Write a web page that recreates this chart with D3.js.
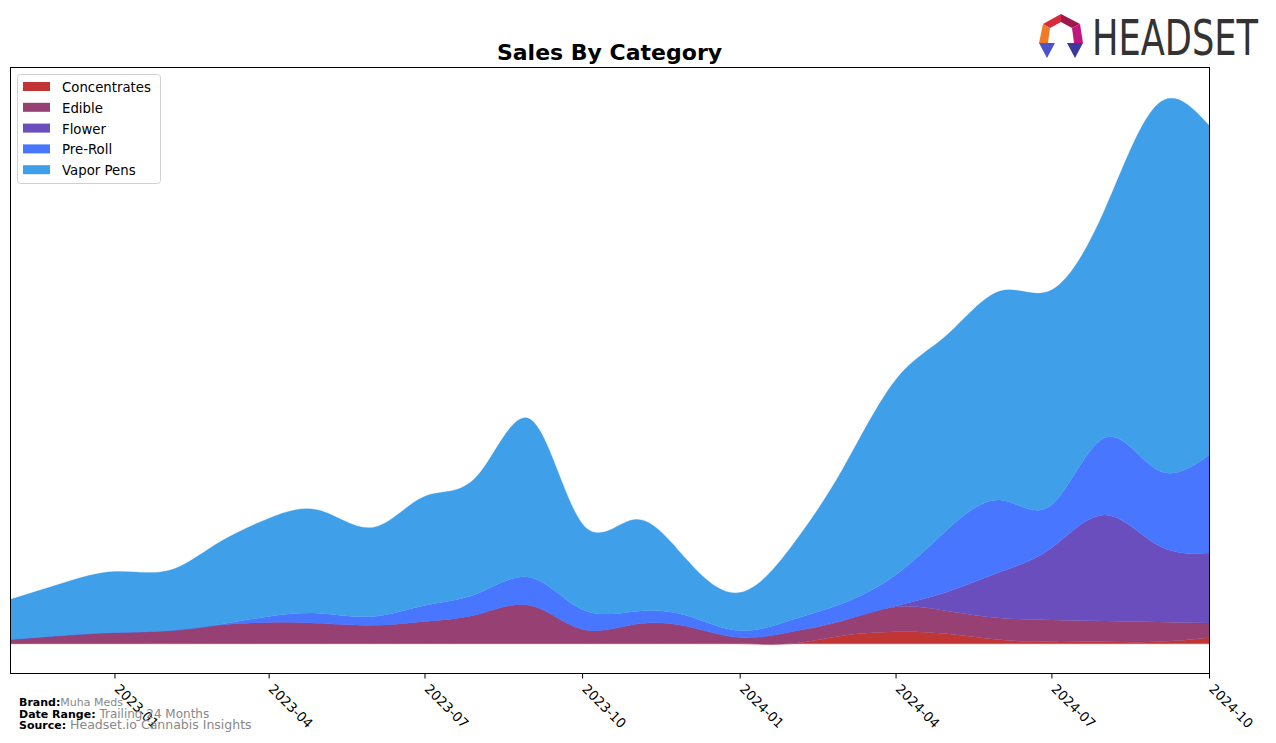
<!DOCTYPE html>
<html>
<head>
<meta charset="utf-8">
<script src="https://cdn.jsdelivr.net/npm/d3@7/dist/d3.min.js"></script>
<style>
  body { margin: 0; background: #fff; font-family: "DejaVu Sans", sans-serif; }
</style>
</head>
<body>
<script>
// months on the x axis (first of month)
const months = ['2022-11','2022-12','2023-01','2023-02','2023-03','2023-04','2023-05','2023-06',
  '2023-07','2023-08','2023-09','2023-10','2023-11','2023-12','2024-01','2024-02','2024-03',
  '2024-04','2024-05','2024-06','2024-07','2024-08','2024-09','2024-10'];

const categories = ['Concentrates', 'Edible', 'Flower', 'Pre-Roll', 'Vapor Pens'];

// sales per category, per month (arbitrary units, no y axis shown)
const concentrates = [0.8,0.8,0.8,0.6,0.5,0.5,0.5,0.5,0.5,0.5,0.5,0.5,0.5,0.5,0.3,0.3,8,12,10,4,2,2,2,6];
const edible       = [3.5,7.5,10.5,12.5,18,21,20,18,22,29,38,14,19,17,6,12,15,25,23,22,22,21,20,15];
const flower       = [0,0,0,0,0,0,0,0,0,0,0,0,0,0,0,0,0.5,1,19,46,72,106,77,70];
const preRoll      = [0,0,0,0,0,6,10,9,16,21,28,20,13,11,7,12,17,31,62,72,43,77,75,98];
const vaporPens    = [40,52,61,60,81,98,103,89,109,118,158,86,92,56,38,75,134,195,195,209,215,228,366,330];

const tickLabels = ['2023-01','2023-04','2023-07','2023-10','2024-01','2024-04','2024-07','2024-10'];

const colors = ['#c23535', '#964073', '#6a4ebd', '#4876ff', '#3f9fe8'];

const width = 1276, height = 743;
const margin = { left: 10, right: 67, top: 67, bottom: 70 };
const parse = d3.timeParse('%Y-%m');

const svg = d3.select('body').append('svg')
  .attr('width', width)
  .attr('height', height);

/* build rows for the stack */
const seriesValues = [concentrates, edible, flower, preRoll, vaporPens];
const rows = months.map((m, i) => {
  const row = { date: parse(m) };
  categories.forEach((c, j) => row[c] = seriesValues[j][i]);
  return row;
});

const stack = d3.stack().keys(categories);
const layers = stack(rows);

const x = d3.scaleTime()
  .domain(d3.extent(rows, d => d.date))
  .range([margin.left, width - margin.right]);

const maxTotal = d3.max(layers[layers.length - 1], d => d[1]);
const y = d3.scaleLinear()
  .domain([-0.054 * maxTotal, 1.069 * maxTotal])
  .range([height - margin.bottom, margin.top]);

/* clip for the plot area */
svg.append('clipPath').attr('id', 'plot-clip')
  .append('rect')
  .attr('x', margin.left).attr('y', margin.top)
  .attr('width', width - margin.left - margin.right)
  .attr('height', height - margin.top - margin.bottom);

const area = d3.area()
  .x(d => x(d.data.date))
  .y0(d => y(d[0]))
  .y1(d => y(d[1]))
  .curve(d3.curveNatural);

svg.append('g')
  .attr('clip-path', 'url(#plot-clip)')
  .selectAll('path')
  .data(layers)
  .enter().append('path')
  .attr('d', area)
  .attr('fill', (d, i) => colors[i])
  .attr('stroke', (d, i) => colors[i])
  .attr('stroke-width', 0.5)
  .attr('stroke-opacity', 0.6);

/* frame */
svg.append('rect')
  .attr('x', margin.left + 0.5).attr('y', margin.top + 0.5)
  .attr('width', width - margin.left - margin.right)
  .attr('height', height - margin.top - margin.bottom)
  .attr('fill', 'none')
  .attr('stroke', '#000')
  .attr('stroke-width', 1);

/* x axis */
const xAxis = d3.axisBottom(x)
  .tickValues(tickLabels.map(parse))
  .tickSize(5)
  .tickFormat(d3.timeFormat('%Y-%m'));

const gx = svg.append('g')
  .attr('transform', `translate(0, ${height - margin.bottom + 0.5})`)
  .call(xAxis);
gx.select('.domain').remove();
gx.selectAll('.tick line').attr('stroke', '#000');
gx.selectAll('.tick text')
  .attr('font-family', 'DejaVu Sans')
  .attr('font-size', 13.3)
  .attr('fill', '#000')
  .attr('text-anchor', 'start')
  .attr('transform', 'translate(2, 13) rotate(45)')
  .attr('dy', '0.35em')
  .attr('y', 0)
  .attr('x', 0);

/* title */
svg.append('text')
  .attr('x', (margin.left + width - margin.right) / 2)
  .attr('y', 60)
  .attr('text-anchor', 'middle')
  .attr('font-family', 'DejaVu Sans')
  .attr('font-weight', 'bold')
  .attr('font-size', 22)
  .text('Sales By Category');

/* legend */
const legend = svg.append('g').attr('transform', 'translate(17, 74)');
legend.append('rect')
  .attr('x', 0.5).attr('y', 0.5)
  .attr('width', 143).attr('height', 109)
  .attr('rx', 3)
  .attr('fill', '#fff')
  .attr('fill-opacity', 0.8)
  .attr('stroke', '#d0d0d0');

const items = legend.selectAll('g.item')
  .data(categories)
  .enter().append('g')
  .attr('class', 'item')
  .attr('transform', (d, i) => `translate(6, ${8 + i * 20.8})`);

items.append('rect')
  .attr('width', 27).attr('height', 9)
  .attr('fill', (d, i) => colors[i]);

items.append('text')
  .attr('x', 39).attr('y', 10)
  .attr('font-family', 'DejaVu Sans')
  .attr('font-size', 13.3)
  .text(d => d);

/* footer */
const footer = [
  { label: 'Brand:', value: 'Muha Meds', y: 706, size: 11 },
  { label: 'Date Range:', value: ' Trailing 24 Months', y: 717.5, size: 12 },
  { label: 'Source:', value: ' Headset.io Cannabis Insights', y: 729, size: 12.5 }
];
footer.forEach(f => {
  const t = svg.append('text')
    .attr('x', 19).attr('y', f.y)
    .attr('font-family', 'DejaVu Sans');
  t.append('tspan').attr('font-weight', 'bold').attr('font-size', 11).text(f.label);
  t.append('tspan').attr('fill', '#888').attr('font-size', f.size).text(f.value);
});

/* logo */
const logo = svg.append('g');
const facets = [
  { pts: [[1043,24],[1061,14],[1061,22],[1050,28]], c: '#d42a3c' },
  { pts: [[1061,14],[1080,24],[1072,28],[1061,22]], c: '#a0164d' },
  { pts: [[1080,24],[1083,43],[1074,43],[1072,28]], c: '#c1177c' },
  { pts: [[1043,24],[1050,28],[1048,43],[1039,43]], c: '#f07a26' },
  { pts: [[1039,43],[1055,43],[1047,58]], c: '#4d52c8' },
  { pts: [[1067,43],[1083,43],[1075,58]], c: '#3b3a9c' }
];
logo.selectAll('polygon')
  .data(facets)
  .enter().append('polygon')
  .attr('points', d => d.pts.map(p => p.join(',')).join(' '))
  .attr('fill', d => d.c);

logo.append('text')
  .attr('x', 1092).attr('y', 55)
  .attr('font-family', '"Liberation Sans Narrow", "DejaVu Sans Condensed", sans-serif')
  .attr('font-size', 49)
  .attr('fill', '#333')
  .attr('textLength', 166)
  .attr('lengthAdjust', 'spacingAndGlyphs')
  .text('HEADSET');
</script>
</body>
</html>
